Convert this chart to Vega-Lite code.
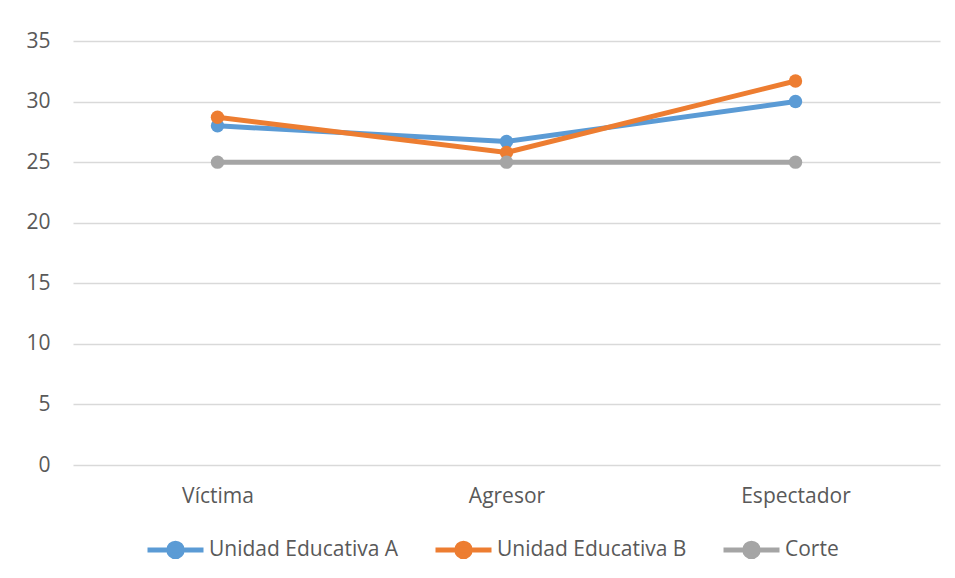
{
  "$schema": "https://vega.github.io/schema/vega-lite/v6.json",
  "width": 867,
  "height": 424,
  "autosize": {"type": "none"},
  "padding": {"left": 73, "top": 41, "right": 15, "bottom": 113},
  "background": "white",
  "data": {
    "values": [
      {"rol": "Víctima", "serie": "Unidad Educativa A", "valor": 28.0},
      {"rol": "Agresor", "serie": "Unidad Educativa A", "valor": 26.7},
      {"rol": "Espectador", "serie": "Unidad Educativa A", "valor": 30.0},
      {"rol": "Víctima", "serie": "Unidad Educativa B", "valor": 28.7},
      {"rol": "Agresor", "serie": "Unidad Educativa B", "valor": 25.8},
      {"rol": "Espectador", "serie": "Unidad Educativa B", "valor": 31.7},
      {"rol": "Víctima", "serie": "Corte", "valor": 25},
      {"rol": "Agresor", "serie": "Corte", "valor": 25},
      {"rol": "Espectador", "serie": "Corte", "valor": 25}
    ]
  },
  "mark": {"type": "line", "strokeWidth": 5, "point": {"size": 180, "filled": true, "opacity": 1}},
  "encoding": {
    "x": {
      "field": "rol",
      "type": "nominal",
      "sort": ["Víctima", "Agresor", "Espectador"],
      "scale": {"type": "point", "padding": 0.5},
      "axis": {"title": null, "labelAngle": 0, "ticks": false, "domain": false, "grid": false, "labelPadding": 20}
    },
    "y": {
      "field": "valor",
      "type": "quantitative",
      "scale": {"domain": [0, 35], "nice": false},
      "axis": {"title": null, "values": [0, 5, 10, 15, 20, 25, 30, 35], "ticks": false, "domain": false, "labelPadding": 23}
    },
    "color": {
      "field": "serie",
      "type": "nominal",
      "sort": ["Unidad Educativa A", "Unidad Educativa B", "Corte"],
      "scale": {"domain": ["Unidad Educativa A", "Unidad Educativa B", "Corte"], "range": ["#5B9BD5", "#ED7D31", "#A5A5A5"]},
      "legend": {
        "title": null,
        "orient": "none",
        "direction": "horizontal",
        "legendX": 72,
        "legendY": 478,
        "symbolType": "M-1,0L1,0M-0.24,0A0.24,0.24 0 1,1 0.24,0A0.24,0.24 0 1,1 -0.24,0Z",
        "symbolSize": 3136,
        "symbolStrokeWidth": 5,
        "labelOffset": 3,
        "labelLimit": 400,
        "columnPadding": 26,
        "encode": {
          "symbols": {"update": {"fill": {"scale": "color", "field": "value"}, "fillOpacity": {"value": 1}}}
        }
      }
    }
  },
  "config": {
    "font": "Open Sans",
    "view": {"stroke": null},
    "axis": {"labelFont": "Open Sans", "labelFontSize": 21, "labelColor": "#595959", "gridColor": "#D9D9D9", "gridWidth": 1.3},
    "legend": {"labelFont": "Open Sans", "labelFontSize": 21, "labelColor": "#595959"}
  }
}
